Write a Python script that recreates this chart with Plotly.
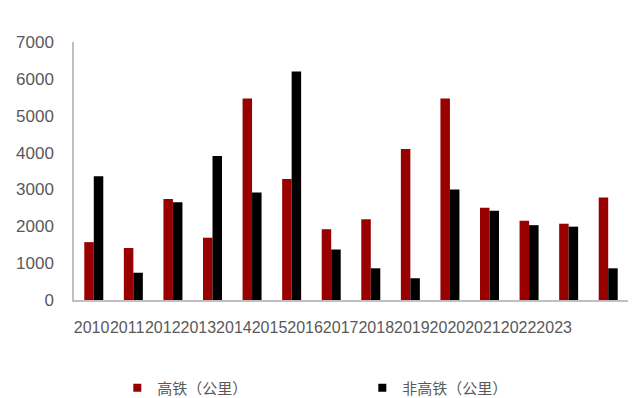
import plotly.graph_objects as go

years = ["2010", "2011", "2012", "2013", "2014", "2015", "2016",
         "2017", "2018", "2019", "2020", "2021", "2022", "2023"]
high_speed = [1570, 1410, 2740, 1690, 5470, 3280, 1920,
              2190, 4100, 5470, 2500, 2150, 2070, 2780]
conventional = [3360, 740, 2650, 3910, 2920, 6200, 1370,
                860, 590, 3000, 2420, 2030, 1990, 860]
y_ticks = [0, 1000, 2000, 3000, 4000, 5000, 6000, 7000]

names = ["高铁（公里）", "非高铁（公里）"]
colors = ["#990000", "#000000"]
gray = "#595959"

fig = go.Figure()
for vals, name, col in zip([high_speed, conventional], names, colors):
    fig.add_trace(go.Bar(x=years, y=vals, name=name, marker_color=col,
                         marker_line_width=0, showlegend=False))
    # small square legend keys
    fig.add_trace(go.Scatter(x=[None], y=[None], mode="markers", name=name,
                             marker=dict(symbol="square", size=8, color=col)))

# year labels packed tightly on an overlaid category axis
fig.add_trace(go.Scatter(x=years, y=[None] * len(years), xaxis="x2", mode="markers",
                         showlegend=False, hoverinfo="skip"))

fig.update_layout(
    width=641, height=398,
    margin=dict(l=73.5, r=13, t=42, b=98, autoexpand=False),
    paper_bgcolor="white", plot_bgcolor="white",
    barmode="group", bargap=0.52, bargroupgap=0,
    font=dict(family="Liberation Sans, Arial, sans-serif", color=gray, size=16),
    legend=dict(orientation="h", x=0.183, xanchor="left", xref="container",
                y=0.025, yanchor="middle", yref="container",
                entrywidth=200, entrywidthmode="pixels", itemwidth=30,
                font=dict(family="Noto Sans CJK SC", size=15, color=gray)),
    xaxis=dict(type="category", showline=True, linecolor="#BFBFBF",
               linewidth=1.5, ticks="", showticklabels=False, showgrid=False),
    xaxis2=dict(type="category", overlaying="x", side="bottom", anchor="y",
                range=[-0.494, 15.076], showline=False, showgrid=False, zeroline=False,
                ticks="", tickangle=0, ticklabelstandoff=16,
                tickfont=dict(size=16, color=gray)),
    yaxis=dict(range=[0, 7000], tickvals=y_ticks, showline=True, linecolor="#BFBFBF",
               linewidth=1.5, ticks="", ticklabelstandoff=15,
               showgrid=False, zeroline=False, tickfont=dict(size=17, color=gray)),
)

fig.write_html("out.html")
